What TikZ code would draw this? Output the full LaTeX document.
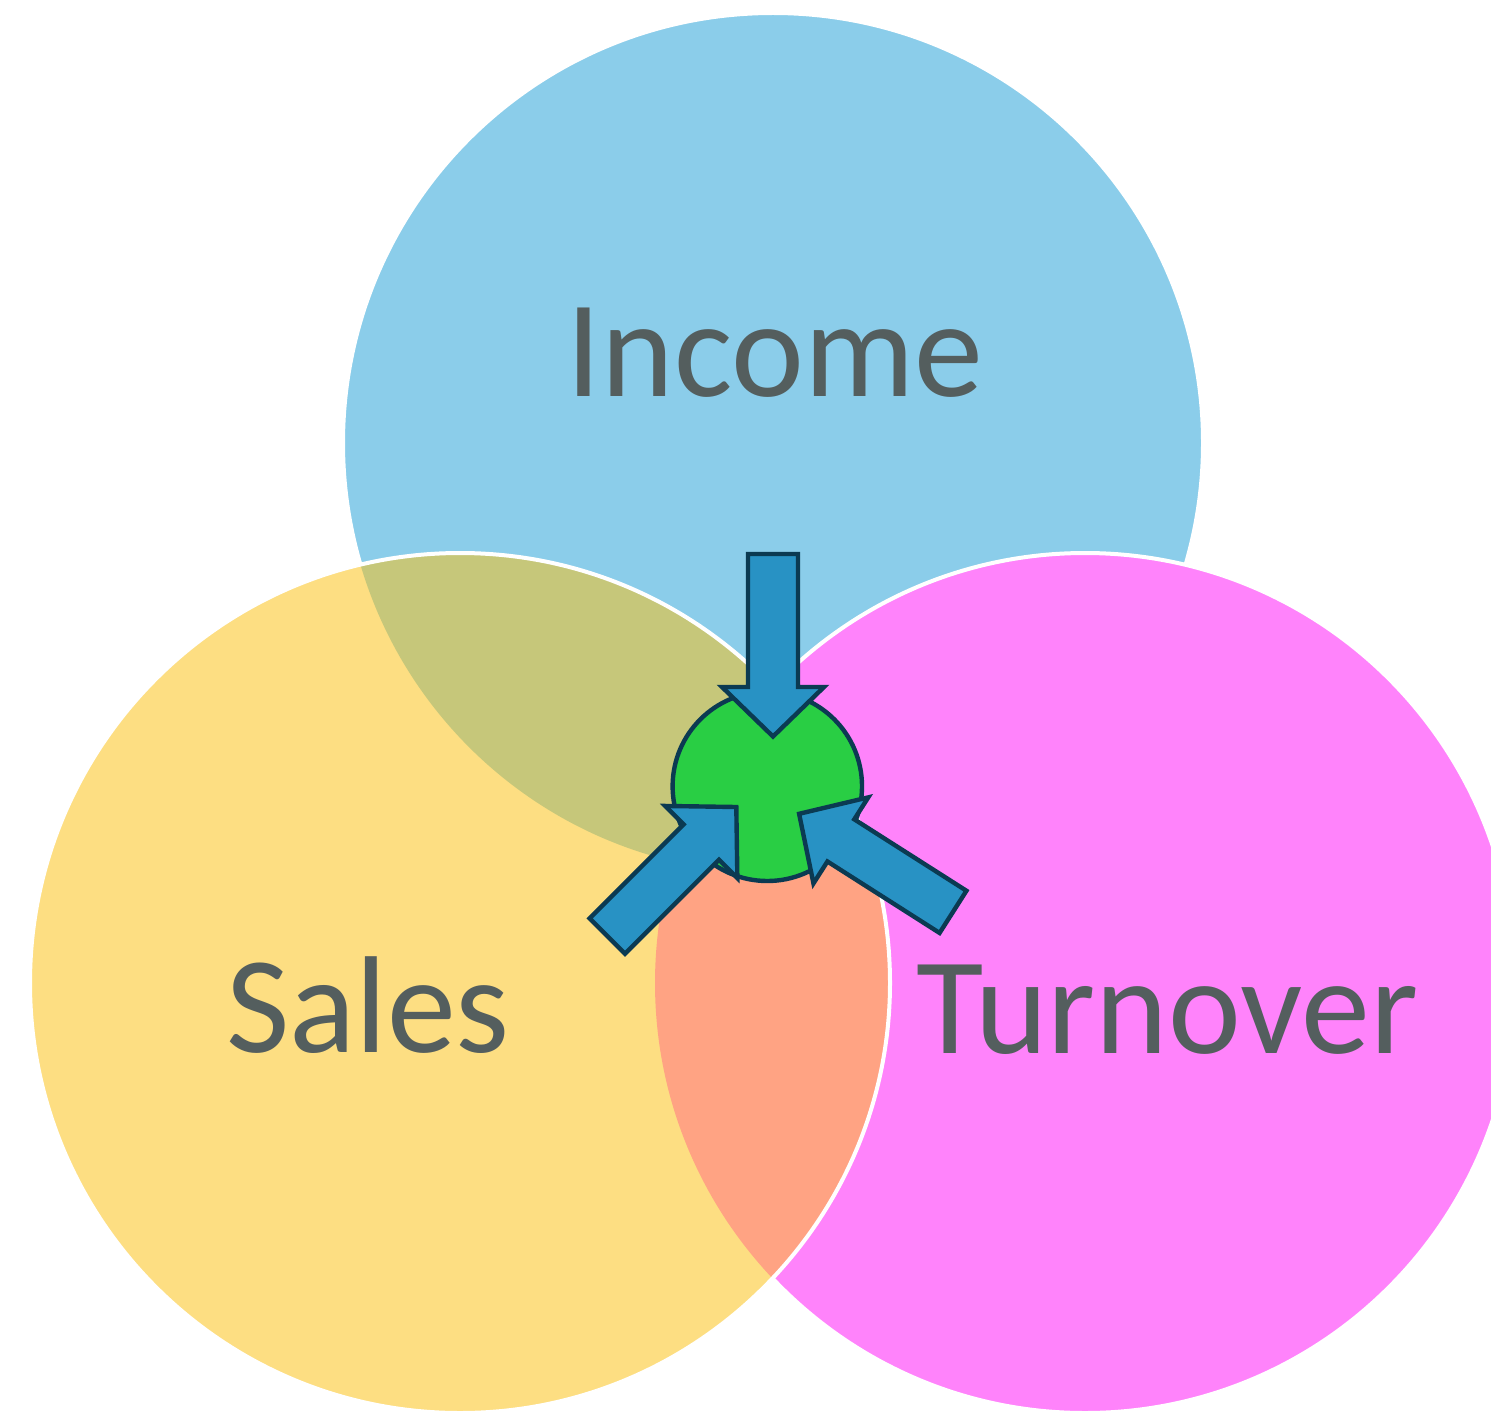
\documentclass[tikz,border=0pt]{standalone}
\usepackage{fontspec}
\setmainfont{Carlito}
\definecolor{cblue}{HTML}{8BCDEA}
\definecolor{cyellow}{HTML}{FDDE82}
\definecolor{cmag}{HTML}{FF83FB}
\definecolor{colive}{HTML}{C6C77A}
\definecolor{csalmon}{HTML}{FFA383}
\definecolor{cgreen}{HTML}{29CE44}
\definecolor{carrow}{HTML}{2892C4}
\definecolor{cedge}{HTML}{0B3A52}
\definecolor{ctext}{HTML}{545E5E}
\tikzset{
  vennedge/.style={draw=white, line width=2pt},
  arrowbody/.style={fill=carrow, draw=cedge, line width=2.2pt, line join=miter},
  corestyle/.style={circle, fill=cgreen, draw=cedge, line width=2.2pt, inner sep=0pt, minimum size=94.7pt},
  lbl/.style={text=ctext, font=\fontsize{69}{69}\selectfont, inner sep=0pt, anchor=base}
}
\newcommand{\blockarrow}[3]{%
  \begin{scope}[shift={(#1,#2)},
      x={({0.5pt*cos(#3)},{-0.5pt*sin(#3)})},
      y={({-0.5pt*sin(#3)},{-0.5pt*cos(#3)})}]
    \draw[arrowbody] (0,0) -- (-49.5,-51) -- (-49.5,-25) -- (-182.5,-25)
      -- (-182.5,25) -- (-49.5,25) -- (-49.5,51) -- cycle;
  \end{scope}}
\begin{document}
\begin{tikzpicture}[x=0.5pt,y=-0.5pt]
\useasboundingbox (0,0) rectangle (1491,1411);
\clip (0,0) rectangle (1491,1411);
\fill[white] (0,0) rectangle (1491,1411);
\coordinate (cI) at (773,443);
\coordinate (cS) at (460,983);
\coordinate (cT) at (1085,983);
% Income circle
\fill[cblue] (cI) circle[radius=215pt];
\draw[vennedge] (cI) circle[radius=215pt];
% Turnover circle
\fill[cmag] (cT) circle[radius=215pt];
\draw[vennedge] (cT) circle[radius=215pt];
% Sales circle
\fill[cyellow] (cS) circle[radius=215pt];
\begin{scope}
  \clip (cS) circle[radius=215pt];
  \fill[colive] (cI) circle[radius=215pt];
  \fill[csalmon] (cT) circle[radius=215pt];
\end{scope}
\draw[vennedge] (cS) circle[radius=215pt];
% labels
\node[lbl] (income) at (775,397) {Income};
\node[lbl] (sales) at (368,1052) {Sales};
\node[lbl] (turnover) at (1167.5,1053) {Turnover};
% centre
\node[corestyle] (core) at (767.3,786.3) {};
% arrows
\blockarrow{773}{736.5}{90}
\blockarrow{736.3}{807}{-45}
\blockarrow{799.1}{813.8}{212.5}
\end{tikzpicture}
\end{document}
